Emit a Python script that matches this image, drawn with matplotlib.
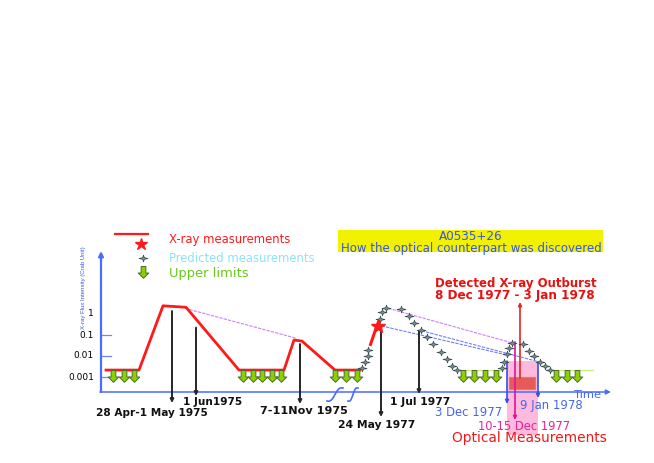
import numpy as np
import matplotlib
matplotlib.use('Agg')
import matplotlib.pyplot as plt
from matplotlib.path import Path
from matplotlib.patches import Rectangle

# ---------------- data (schematic time units, flux as log10 Crab units) ----------------
xray_t = [106, 139, 163, 186, 239, 284, 294, 302, 335, 360]
xray_logf = [-2.67, -2.67, 0.39, 0.32, -2.67, -2.67, -1.24, -1.29, -2.67, -2.67]
xray_rise_t = [370.5, 375.5]
xray_rise_logf = [-1.45, -0.75]
star_t = [378.3]
star_logf = [-0.57]

pred1_t = [362.3, 365, 367.7, 368.3, 380, 381.7, 385.7, 401, 409.3, 414.3, 421,
           426.7, 433.3, 440.7, 447.3, 451.7, 456.7]
pred1_logf = [-2.56, -2.27, -1.99, -1.71, -0.24, 0.11, 0.27, 0.22, -0.08, -0.44, -0.76,
              -1.11, -1.44, -1.80, -2.14, -2.48, -2.67]
pred2_t = [501.7, 504.3, 506.7, 509, 512.3, 522.7, 529, 533.7, 540, 545, 550]
pred2_logf = [-2.59, -2.27, -1.92, -1.63, -1.37, -1.43, -1.75, -2.00, -2.27, -2.46, -2.67]

ul_t = [113, 124, 134, 243, 253, 262, 272, 281, 335, 346, 357, 463, 474, 485, 496, 556, 567, 577]
ul_logf = [-2.67, -2.67, -2.67, -2.67, -2.67, -2.67, -2.67, -2.67, -2.67, -2.67, -2.67,
           -2.67, -2.67, -2.67, -2.67, -2.67, -2.67, -2.67]
ul_line_t = [(458, 503), (550, 593)]
ul_line_logf = -2.67

event_labels = ["28 Apr-1 May 1975", "1 Jun1975", "7-11Nov 1975", "24 May 1977", "1 Jul 1977"]
event_t = [172, 196, 300, 381, 419]
event_logf = [0.14, -0.65, -1.43, -0.81, -0.81]

proj_violet = [((185, 0.27), (296.7, -1.16)), ((388.3, 0.27), (511.7, -1.37))]
proj_blue = [((381.7, -0.57), (506.7, -1.95)), ((421.7, -0.80), (538.3, -2.27))]

outburst_t = 520
outburst_logf = -3.05
det_box_t = (509, 535)
det_box_logf = (-3.59, -3.0)
opt_window_t = (507, 538)
opt_window_logf = (-5.76, -2.24)
opt_mid_t = 515
opt_mid_logf = -1.33
dec3_t, jan9_t = 507, 538

ytick_vals = [0, -1, -2, -3]
ytick_labels = ["1", "0.1", "0.01", "0.001"]

# ---------------- layout helpers ----------------
W, H = 654, 463
def P(py):
    """pixel row -> data y (log flux)"""
    return -3 + (377 - py) / 21.0

fig = plt.figure(figsize=(W / 100, H / 100), dpi=100)
ax = fig.add_axes([0, 0, 1, 1])
ax.set_xlim(0, W)
ax.set_ylim(P(H), P(0))
ax.axis('off')

RED = '#FF1A1A'
BLUE_AX = '#4A6CFF'
BLUE_TXT = '#3355E6'
GREEN = '#8CD000'
GREEN_EDGE = '#4D6B2A'
PRED_FACE = '#7E9696'
PRED_EDGE = '#34484A'

# markers
ul_path = Path([(-0.2, 0), (0.2, 0), (0.2, -0.55), (0.45, -0.55), (0, -1),
                (-0.45, -0.55), (-0.2, -0.55), (-0.2, 0)],
               [Path.MOVETO] + [Path.LINETO] * 6 + [Path.CLOSEPOLY])
st = [(1, 0), (0.18, 0.18), (0, 0.75), (-0.18, 0.18), (-1, 0), (-0.18, -0.18), (0, -0.75), (0.18, -0.18), (1, 0)]
pred_path = Path(st, [Path.MOVETO] + [Path.LINETO] * 7 + [Path.CLOSEPOLY])

# optical window (background)
ax.add_patch(Rectangle((opt_window_t[0], opt_window_logf[0]), opt_window_t[1] - opt_window_t[0],
                       opt_window_logf[1] - opt_window_logf[0], facecolor='#FFB9DC',
                       edgecolor='none', zorder=0))

# axes with arrows
y0 = P(392)
ax.annotate('', xy=(101, P(251)), xytext=(101, y0),
            arrowprops=dict(arrowstyle='-|>', color=BLUE_AX, lw=1.6, mutation_scale=7,
                            shrinkA=0, shrinkB=0), zorder=3)
ax.annotate('', xy=(611, y0), xytext=(100, y0),
            arrowprops=dict(arrowstyle='-|>', color=BLUE_AX, lw=1.1, mutation_scale=7,
                            shrinkA=0, shrinkB=0), zorder=3)
for v in ytick_vals[1:]:
    ax.plot([101, 111], [v, v], color='#6C86FF', lw=0.9, zorder=2)
for v, lab in zip(ytick_vals, ytick_labels):
    ax.text(94, v, lab, ha='right', va='center', fontsize=6.5, color='black', zorder=8)

# axis breaks
for x0, x1 in [(327, 343), (348, 358)]:
    s = np.linspace(0, 1, 30)
    xs = x0 + (x1 - x0) * s
    pys = 401 - 13 * s + 2.5 * np.sin(2 * np.pi * s)
    ax.plot(xs, [P(p) for p in pys], color=BLUE_AX, lw=1.2, zorder=3)

# projection lines
for (a, b) in proj_violet:
    ax.plot([a[0], b[0]], [a[1], b[1]], color='#CC80FF', lw=0.8, ls=(0, (3, 1)), zorder=2)
for (a, b) in proj_blue:
    ax.plot([a[0], b[0]], [a[1], b[1]], color='#6F80FF', lw=0.8, ls=(0, (3, 1)), zorder=2)

# light green baseline for upper limits in late period
for (a, b) in ul_line_t:
    ax.plot([a, b], [ul_line_logf, ul_line_logf], color='#C8EC8A', lw=1.0, zorder=2)

# X-ray light curve
ax.plot(xray_t, xray_logf, color=RED, lw=2.0, zorder=4, solid_joinstyle='round')
ax.plot(xray_rise_t, xray_rise_logf, color=RED, lw=2.2, zorder=4)
ax.plot(star_t, star_logf, marker='*', color=RED, ms=10, ls='none', zorder=6)

# predicted
for tt, ff in [(pred1_t, pred1_logf), (pred2_t, pred2_logf)]:
    ax.plot(tt, ff, ls='none', marker=pred_path, ms=6.5, mfc=PRED_FACE, mec=PRED_EDGE,
            mew=0.5, zorder=5)

# upper limits
ax.plot(ul_t, ul_logf, ls='none', marker=ul_path, ms=17, mfc=GREEN, mec=GREEN_EDGE,
        mew=0.7, zorder=5)

# event arrows
event_tips = [403, 396, 404, 417, 394]
for t, f, tip in zip(event_t, event_logf, event_tips):
    ax.annotate('', xy=(t, P(tip)), xytext=(t, f),
                arrowprops=dict(arrowstyle='-|>', color='#262626', lw=1.4, mutation_scale=5,
                                shrinkA=0, shrinkB=0), zorder=4)

# detection box and arrows
ax.add_patch(Rectangle((det_box_t[0], det_box_logf[0]), det_box_t[1] - det_box_t[0],
                       det_box_logf[1] - det_box_logf[0], facecolor='#E85A5A',
                       edgecolor='#8AAA55', lw=0.8, zorder=3))
ax.annotate('', xy=(outburst_t, P(302)), xytext=(outburst_t, outburst_logf),
            arrowprops=dict(arrowstyle='-|>', color='#E02828', lw=1.2, mutation_scale=5,
                            shrinkA=0, shrinkB=0), zorder=4)
ax.annotate('', xy=(opt_mid_t, P(420)), xytext=(opt_mid_t, opt_mid_logf),
            arrowprops=dict(arrowstyle='-|>', color='#E0149A', lw=1.2, mutation_scale=5,
                            shrinkA=0, shrinkB=0), zorder=4)
ax.annotate('', xy=(dec3_t, P(404)), xytext=(dec3_t, opt_window_logf[1]),
            arrowprops=dict(arrowstyle='-|>', color='#3A4CF0', lw=1.2, mutation_scale=5,
                            shrinkA=0, shrinkB=0), zorder=4)
ax.annotate('', xy=(jan9_t, P(398)), xytext=(jan9_t, P(362)),
            arrowprops=dict(arrowstyle='-|>', color='#3A4CF0', lw=1.2, mutation_scale=5,
                            shrinkA=0, shrinkB=0), zorder=4)

# legend
ax.plot([115, 148], [P(234), P(234)], color=RED, lw=1.6)
ax.plot([141], [P(244)], marker='*', color=RED, ms=9, ls='none')
ax.plot([143], [P(258)], marker=pred_path, ms=6.5, mfc=PRED_FACE, mec=PRED_EDGE, mew=0.5, ls='none')
ax.plot([143], [P(266)], marker=ul_path, ms=17, mfc=GREEN, mec=GREEN_EDGE, mew=0.7, ls='none')

# title box
ax.add_patch(Rectangle((338, P(252)), 265, 22 / 21.0, facecolor='#F2F200', edgecolor='none', zorder=1))

fit = []
def txt(x, py, s, w, color='black', weight='normal', ha='left', rot=0, family=None):
    kw = {}
    if family:
        kw['family'] = family
    t = ax.text(x, P(py), s, ha=ha, va='center', color=color, fontweight=weight,
                fontsize=10, rotation=rot, zorder=7, **kw)
    fit.append((t, w, rot))
    return t

txt(169, 240, "X-ray measurements", 121, RED)
txt(169, 258, "Predicted measurements", 146, '#8CE4F4')
txt(169, 274, "Upper limits", 79, '#66C81A')
txt(471, 236, "A0535+26", 64, BLUE_TXT, ha='center')
txt(341, 248.5, "How the optical counterpart was discovered", 259, BLUE_TXT)
txt(435, 283, "Detected X-ray Outburst", 162, '#E81010', 'bold')
txt(435, 295, "8 Dec 1977 - 3 Jan 1978", 160, '#E81010', 'bold')
ev_pos = [(96, 412.5, 112), (183, 402, 59), (260, 411, 88), (338, 425, 77), (390, 402, 60)]
for lab, (x, py, w) in zip(event_labels, ev_pos):
    txt(x, py, lab, w, '#111111', 'bold')
txt(435, 412.5, "3 Dec 1977", 67, '#4466EE')
txt(520, 405.5, "9 Jan 1978", 62, '#4466EE')
txt(478, 426, "10-15 Dec 1977", 92, '#E8209A')
txt(452, 438, "Optical Measurements", 154, '#F01818')
txt(574, 395.5, "Time", 28, '#4466EE')
txt(84, 288, "X-ray Flux Intensity (Crab Unit)", 82, '#3355E6', ha='center', rot=90,
    family=['Liberation Sans', 'DejaVu Sans'])

fig.canvas.draw()
r = fig.canvas.get_renderer()
for t, w, rot in fit:
    bb = t.get_window_extent(r)
    size = bb.height if rot else bb.width
    t.set_fontsize(t.get_fontsize() * w / size)

fig.savefig('out.png', dpi=100, facecolor='white')
